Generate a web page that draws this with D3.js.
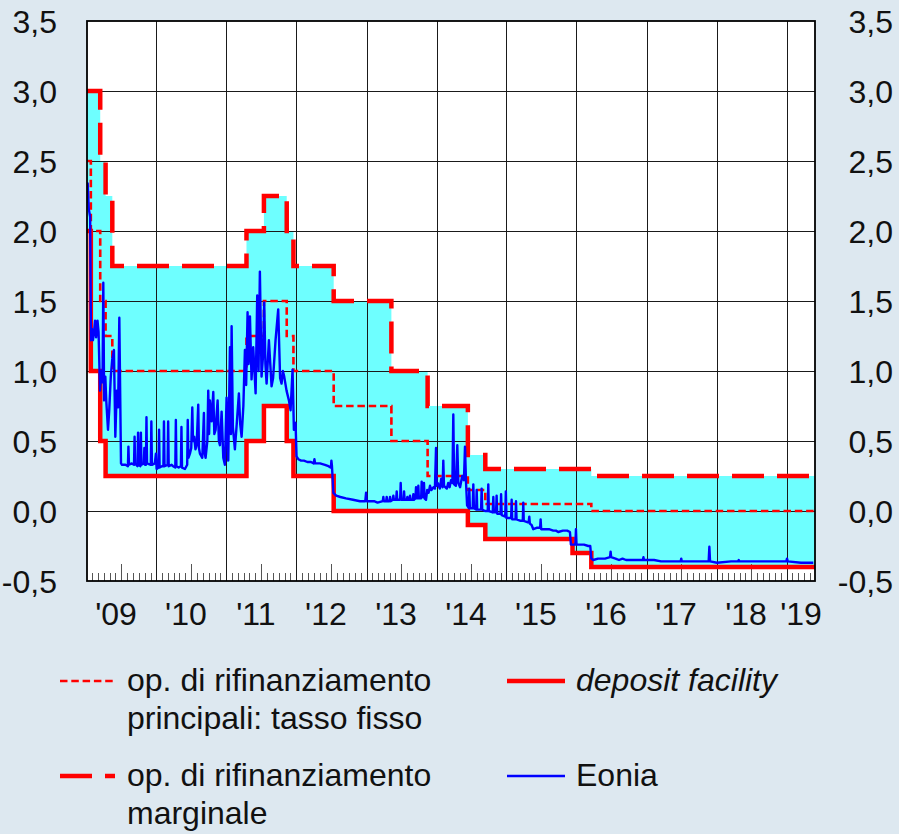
<!DOCTYPE html>
<html>
<head>
<meta charset="utf-8">
<script src="https://cdn.jsdelivr.net/npm/d3@7"></script>
<style>
  html, body { margin: 0; padding: 0; background: #dde8f0; }
  svg { display: block; }
  text { font-family: "Liberation Sans", Arial, Helvetica, sans-serif; fill: #111; }
</style>
</head>
<body>
<svg id="chart" width="899" height="834"></svg>
<script>
// ECB official rates: date of each change (first entry = rates in force when the chart starts)
const changeDates = ["2009-01-01", "2009-01-21", "2009-03-11", "2009-04-08", "2009-05-13",
  "2011-04-13", "2011-07-13", "2011-11-09", "2011-12-14", "2012-07-11", "2013-05-08",
  "2013-11-13", "2014-06-11", "2014-09-10", "2015-12-09", "2016-03-16"];
const mroRates      = [2.50, 2.00, 1.50, 1.25, 1.00, 1.25, 1.50, 1.25, 1.00, 0.75, 0.50, 0.25, 0.15, 0.05, 0.05, 0.00];
const marginalRates = [3.00, 3.00, 2.50, 2.25, 1.75, 2.00, 2.25, 2.00, 1.75, 1.50, 1.00, 0.75, 0.40, 0.30, 0.30, 0.25];
const depositRates  = [2.00, 1.00, 0.50, 0.25, 0.25, 0.50, 0.75, 0.50, 0.25, 0.00, 0.00, 0.00, -0.10, -0.20, -0.30, -0.40];
const lastDay = "2019-05-27";

// Eonia: [years since 1 Jan 2009, rate]
const eonia = [
  [0.000, 2.20], [0.010, 2.34], [0.025, 2.16], [0.045, 2.10], [0.057, 1.22], [0.070, 1.30], [0.085, 1.22],
  [0.100, 1.28], [0.115, 1.36], [0.130, 1.24], [0.150, 1.36], [0.165, 1.28], [0.186, 0.86], [0.205, 1.00],
  [0.222, 0.92], [0.233, 1.63], [0.245, 0.79], [0.262, 0.96], [0.275, 0.79], [0.300, 0.58], [0.318, 0.72],
  [0.340, 0.96], [0.360, 1.08], [0.385, 1.15], [0.405, 0.53], [0.425, 0.86], [0.445, 0.74], [0.462, 1.38],
  [0.486, 0.34], [0.500, 0.33], [0.550, 0.33], [0.585, 0.32], [0.592, 0.46], [0.600, 0.33], [0.640, 0.34],
  [0.672, 0.33], [0.680, 0.53], [0.688, 0.34], [0.722, 0.32], [0.730, 0.56], [0.738, 0.33], [0.762, 0.32],
  [0.770, 0.56], [0.778, 0.33], [0.812, 0.34], [0.820, 0.45], [0.828, 0.33], [0.842, 0.33], [0.850, 0.67],
  [0.858, 0.34], [0.912, 0.33], [0.920, 0.64], [0.928, 0.33], [0.970, 0.34], [0.985, 0.41], [0.995, 0.30],
  [1.022, 0.31], [1.030, 0.58], [1.038, 0.31], [1.070, 0.32], [1.092, 0.32], [1.100, 0.64], [1.108, 0.32],
  [1.152, 0.33], [1.160, 0.64], [1.168, 0.32], [1.210, 0.33], [1.230, 0.32], [1.262, 0.31], [1.270, 0.65],
  [1.278, 0.32], [1.310, 0.31], [1.342, 0.32], [1.350, 0.60], [1.358, 0.31], [1.400, 0.30], [1.432, 0.33],
  [1.440, 0.65], [1.450, 0.38], [1.471, 0.41], [1.490, 0.45], [1.505, 0.74], [1.515, 0.50], [1.533, 0.53],
  [1.550, 0.44], [1.567, 0.47], [1.590, 0.76], [1.600, 0.45], [1.614, 0.41], [1.648, 0.38], [1.671, 0.70],
  [1.680, 0.42], [1.695, 0.38], [1.720, 0.50], [1.733, 0.86], [1.745, 0.55], [1.757, 0.79], [1.781, 0.64],
  [1.805, 0.85], [1.820, 0.55], [1.838, 0.58], [1.867, 0.79], [1.885, 0.50], [1.900, 0.47], [1.924, 0.71],
  [1.948, 0.38], [1.971, 0.33], [1.995, 0.81], [2.019, 0.36], [2.043, 1.17], [2.057, 0.55], [2.067, 1.32],
  [2.085, 0.60], [2.114, 0.44], [2.140, 0.62], [2.171, 0.84], [2.190, 0.62], [2.210, 0.53], [2.235, 0.75],
  [2.257, 1.15], [2.275, 0.90], [2.295, 1.42], [2.310, 1.05], [2.329, 1.39], [2.352, 0.94], [2.376, 1.17],
  [2.410, 0.84], [2.433, 1.54], [2.452, 1.00], [2.471, 1.71], [2.495, 0.96], [2.515, 1.10], [2.533, 1.49],
  [2.550, 1.05], [2.567, 0.91], [2.600, 1.22], [2.638, 0.89], [2.660, 0.95], [2.695, 1.22], [2.733, 1.44],
  [2.760, 0.95], [2.781, 0.91], [2.800, 1.00], [2.819, 0.96], [2.852, 0.86], [2.886, 0.79], [2.910, 0.72],
  [2.938, 1.01], [2.957, 0.58], [2.981, 0.63], [2.995, 0.39], [3.020, 0.37], [3.060, 0.36], [3.100, 0.36],
  [3.150, 0.35], [3.200, 0.35], [3.240, 0.34], [3.250, 0.37], [3.260, 0.34], [3.330, 0.34], [3.400, 0.33],
  [3.450, 0.32], [3.485, 0.31], [3.492, 0.36], [3.500, 0.32], [3.520, 0.13], [3.560, 0.11], [3.620, 0.10],
  [3.700, 0.09], [3.800, 0.08], [3.900, 0.07], [3.975, 0.07], [3.986, 0.13], [3.995, 0.07], [4.100, 0.07],
  [4.150, 0.06], [4.225, 0.07], [4.233, 0.10], [4.240, 0.07], [4.273, 0.07], [4.281, 0.10], [4.290, 0.07],
  [4.321, 0.07], [4.329, 0.10], [4.337, 0.07], [4.368, 0.08], [4.376, 0.11], [4.384, 0.08], [4.416, 0.08],
  [4.424, 0.14], [4.432, 0.08], [4.473, 0.08], [4.481, 0.20], [4.489, 0.08], [4.521, 0.08], [4.529, 0.14],
  [4.537, 0.08], [4.568, 0.08], [4.576, 0.10], [4.584, 0.08], [4.606, 0.08], [4.614, 0.11], [4.622, 0.08],
  [4.654, 0.08], [4.662, 0.12], [4.670, 0.08], [4.692, 0.09], [4.700, 0.17], [4.708, 0.09], [4.725, 0.09],
  [4.733, 0.18], [4.741, 0.09], [4.773, 0.09], [4.781, 0.21], [4.789, 0.10], [4.806, 0.10], [4.814, 0.20],
  [4.822, 0.09], [4.843, 0.08], [4.860, 0.15], [4.880, 0.13], [4.900, 0.18], [4.920, 0.15], [4.950, 0.17],
  [4.970, 0.16], [4.986, 0.45], [4.995, 0.18], [5.010, 0.20], [5.040, 0.16], [5.060, 0.23], [5.080, 0.17],
  [5.090, 0.36], [5.100, 0.18], [5.140, 0.16], [5.160, 0.20], [5.180, 0.17], [5.200, 0.22], [5.220, 0.20],
  [5.233, 0.69], [5.245, 0.19], [5.270, 0.18], [5.290, 0.47], [5.305, 0.20], [5.330, 0.17], [5.360, 0.25],
  [5.385, 0.22], [5.400, 0.46], [5.415, 0.20], [5.430, 0.04], [5.455, 0.02], [5.462, 0.16], [5.470, 0.02],
  [5.510, 0.02], [5.519, 0.19], [5.528, 0.02], [5.560, 0.01], [5.567, 0.15], [5.575, 0.01], [5.630, 0.01],
  [5.638, 0.16], [5.646, 0.01], [5.686, 0.00], [5.725, 0.00], [5.733, 0.19], [5.741, 0.00], [5.797, -0.01],
  [5.805, 0.10], [5.813, -0.01], [5.844, -0.01], [5.852, 0.11], [5.860, -0.02], [5.908, -0.02], [5.916, 0.12],
  [5.925, -0.03], [5.975, -0.04], [5.984, 0.14], [5.993, -0.05], [6.060, -0.05], [6.067, 0.08], [6.075, -0.06],
  [6.122, -0.06], [6.129, 0.07], [6.137, -0.06], [6.195, -0.07], [6.226, -0.07], [6.233, 0.06], [6.240, -0.07],
  [6.290, -0.08], [6.310, -0.08], [6.319, -0.04], [6.327, -0.09], [6.352, -0.10], [6.376, -0.13], [6.424, -0.12],
  [6.474, -0.12], [6.481, -0.06], [6.489, -0.13], [6.560, -0.13], [6.600, -0.13], [6.662, -0.14], [6.700, -0.14],
  [6.733, -0.15], [6.800, -0.14], [6.860, -0.14], [6.900, -0.15], [6.914, -0.24], [6.950, -0.24], [6.978, -0.24],
  [6.986, -0.13], [6.994, -0.24], [7.050, -0.24], [7.100, -0.24], [7.162, -0.25], [7.190, -0.25], [7.205, -0.34],
  [7.233, -0.35], [7.300, -0.34], [7.360, -0.34], [7.400, -0.34], [7.472, -0.33], [7.480, -0.29], [7.488, -0.33],
  [7.550, -0.34], [7.600, -0.35], [7.650, -0.34], [7.700, -0.35], [7.750, -0.35], [7.805, -0.35], [7.940, -0.35],
  [7.948, -0.33], [7.956, -0.35], [8.100, -0.35], [8.200, -0.36], [8.281, -0.36], [8.400, -0.36], [8.480, -0.36],
  [8.488, -0.34], [8.496, -0.36], [8.600, -0.36], [8.700, -0.36], [8.800, -0.36], [8.880, -0.36], [8.890, -0.255],
  [8.900, -0.36], [9.000, -0.37], [9.200, -0.36], [9.300, -0.36], [9.310, -0.35], [9.320, -0.36], [9.500, -0.36],
  [9.600, -0.36], [9.800, -0.36], [9.990, -0.36], [10.000, -0.34], [10.010, -0.36], [10.200, -0.37], [10.376, -0.37]
];

const yTicks = [-0.5, 0, 0.5, 1, 1.5, 2, 2.5, 3, 3.5];

const legendItems = [
  { key: "mro", lines: ["op. di rifinanziamento", "principali: tasso fisso"] },
  { key: "deposit", lines: ["deposit facility"], italic: true },
  { key: "marginal", lines: ["op. di rifinanziamento", "marginale"] },
  { key: "eonia", lines: ["Eonia"] }
];

// line styles
const styles = {
  mro:      { color: "#ff0000", width: 2.6, dash: "7.5,3.8" },
  marginal: { color: "#ff0000", width: 4.5, dash: "32,13" },
  deposit:  { color: "#ff0000", width: 4.5, dash: null },
  eonia:    { color: "#0000ff", width: 2.4, dash: null }
};

const svg = d3.select("#chart");
const W = +svg.attr("width"), H = +svg.attr("height");
const plot = { left: 87, right: 815, top: 21, bottom: 581 };
const fontSize = 32;

const parseDate = d3.timeParse("%Y-%m-%d");
const startDate = parseDate(changeDates[0]);
const endDate = parseDate(lastDay);

function fromYears(t) {
  const y = startDate.getFullYear() + Math.floor(t);
  const a = new Date(y, 0, 1), b = new Date(y + 1, 0, 1);
  return new Date(+a + (t - Math.floor(t)) * (b - a));
}

const x = d3.scaleTime().domain([startDate, endDate]).range([plot.left, plot.right]);
const y = d3.scaleLinear().domain([-0.5, 3.5]).range([plot.bottom, plot.top]);

const itFormat = d3.formatLocale({ decimal: ",", thousands: ".", grouping: [3], currency: ["", "€"], minus: "-" }).format(".1f");

function steps(values) {
  const pts = changeDates.map((d, i) => ({ date: parseDate(d), v: values[i] }));
  pts.push({ date: endDate, v: values[values.length - 1] });
  return pts;
}

const corridor = changeDates.map((d, i) => ({ date: parseDate(d), lo: depositRates[i], hi: marginalRates[i] }));
corridor.push({ date: endDate, lo: depositRates[depositRates.length - 1], hi: marginalRates[marginalRates.length - 1] });

svg.append("rect").attr("width", W).attr("height", H).attr("fill", "#dde8f0");
svg.append("rect")
  .attr("x", plot.left).attr("y", plot.top)
  .attr("width", plot.right - plot.left).attr("height", plot.bottom - plot.top)
  .attr("fill", "#fff");

svg.append("clipPath").attr("id", "clip")
  .append("rect")
  .attr("x", plot.left).attr("y", plot.top)
  .attr("width", plot.right - plot.left).attr("height", plot.bottom - plot.top);

const g = svg.append("g").attr("clip-path", "url(#clip)");

// corridor between deposit and marginal lending rate
g.append("path")
  .datum(corridor)
  .attr("fill", "#6effff")
  .attr("d", d3.area().curve(d3.curveStepAfter)
    .x(d => x(d.date)).y0(d => y(d.lo)).y1(d => y(d.hi)));

// grid
g.append("g").selectAll("line")
  .data(yTicks.slice(1, -1))
  .join("line")
  .attr("x1", plot.left).attr("x2", plot.right)
  .attr("y1", d => y(d)).attr("y2", d => y(d))
  .attr("stroke", "#1a1a1a").attr("stroke-width", 1)
  .attr("shape-rendering", "crispEdges");

const years = d3.timeYear.range(d3.timeYear.offset(startDate, 1), endDate);
g.append("g").selectAll("line")
  .data(years)
  .join("line")
  .attr("x1", d => x(d)).attr("x2", d => x(d))
  .attr("y1", plot.top).attr("y2", plot.bottom)
  .attr("stroke", "#1a1a1a").attr("stroke-width", 1)
  .attr("shape-rendering", "crispEdges");

// monthly ticks, taller in July
const months = d3.timeMonth.range(d3.timeMonth.offset(startDate, 1), endDate).filter(d => d.getMonth() !== 0);
g.append("g").selectAll("line")
  .data(months)
  .join("line")
  .attr("x1", d => x(d)).attr("x2", d => x(d))
  .attr("y1", plot.bottom).attr("y2", d => plot.bottom - (d.getMonth() === 6 ? 17 : 8))
  .attr("stroke", "#555").attr("stroke-width", 1)
  .attr("shape-rendering", "crispEdges");

function drawLine(data, s, xf, yf) {
  return g.append("path")
    .datum(data)
    .attr("fill", "none")
    .attr("stroke", s.color)
    .attr("stroke-width", s.width)
    .attr("stroke-dasharray", s.dash)
    .attr("d", d3.line().curve(d3.curveStepAfter).x(xf).y(yf));
}

drawLine(steps(mroRates), styles.mro, d => x(d.date), d => y(d.v));
drawLine(steps(depositRates), styles.deposit, d => x(d.date), d => y(d.v));
drawLine(steps(marginalRates), styles.marginal, d => x(d.date), d => y(d.v));

g.append("path")
  .datum(eonia)
  .attr("fill", "none")
  .attr("stroke", styles.eonia.color)
  .attr("stroke-width", styles.eonia.width)
  .attr("stroke-linejoin", "round")
  .attr("d", d3.line().x(d => x(fromYears(d[0]))).y(d => y(d[1])));

// frame
svg.append("rect")
  .attr("x", plot.left).attr("y", plot.top)
  .attr("width", plot.right - plot.left).attr("height", plot.bottom - plot.top)
  .attr("fill", "none").attr("stroke", "#000").attr("stroke-width", 1.8);

// y labels, both sides
const yl = svg.append("g").attr("font-size", fontSize).attr("text-anchor", "end");
yl.selectAll("text.l")
  .data(yTicks).join("text").attr("class", "l")
  .attr("x", 57).attr("y", d => y(d) + 12)
  .text(d => itFormat(d));
yl.selectAll("text.r")
  .data(yTicks).join("text").attr("class", "r")
  .attr("x", 893).attr("y", d => y(d) + 12)
  .text(d => itFormat(d));

// x labels, centred on each year (last one on the remaining part)
const yearStarts = d3.timeYear.range(startDate, endDate);
svg.append("g").attr("font-size", fontSize).attr("text-anchor", "middle")
  .selectAll("text")
  .data(yearStarts)
  .join("text")
  .attr("x", d => {
    const next = d3.min([d3.timeYear.offset(d, 1), endDate]);
    const c = (x(d) + x(next)) / 2;
    return next < d3.timeYear.offset(d, 1) ? c : c - 6;
  })
  .attr("y", 625)
  .text(d3.timeFormat("'%y"));

// legend
const cols = [{ sx: 60, ex: 115, tx: 127 }, { sx: 507, ex: 565, tx: 576 }];
const rows = [681, 776];
const lineGap = 38;

const lg = svg.append("g").attr("font-size", fontSize);
legendItems.forEach((item, i) => {
  const c = cols[i % 2], r = rows[Math.floor(i / 2)];
  const s = styles[item.key];
  lg.append("line")
    .attr("x1", c.sx).attr("x2", c.ex).attr("y1", r).attr("y2", r)
    .attr("stroke", s.color).attr("stroke-width", s.width)
    .attr("stroke-dasharray", s.dash);
  const t = lg.append("text")
    .attr("x", c.tx).attr("y", r + 10)
    .attr("font-style", item.italic ? "italic" : null);
  item.lines.forEach((ln, j) => {
    t.append("tspan").attr("x", c.tx).attr("dy", j ? lineGap : 0).text(ln);
  });
});
</script>
</body>
</html>
